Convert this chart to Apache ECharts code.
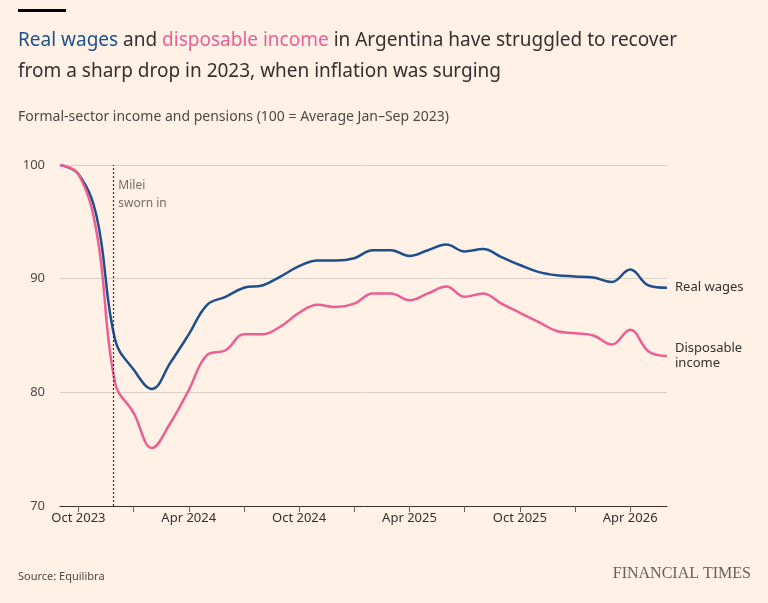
<!DOCTYPE html>
<html>
<head>
<meta charset="utf-8">
<script src="https://cdn.jsdelivr.net/npm/echarts@6/dist/echarts.min.js"></script>
<style>
  html, body { margin: 0; padding: 0; background: #fff1e5; }
  #chart { width: 768px; height: 603px; }
</style>
</head>
<body>
<div id="chart"></div>
<script>
// monthly, Sep 2023 .. Jun 2026
const months = ['Sep 2023','Oct 2023','Nov 2023','Dec 2023','Jan 2024','Feb 2024','Mar 2024','Apr 2024','May 2024','Jun 2024','Jul 2024','Aug 2024',
  'Sep 2024','Oct 2024','Nov 2024','Dec 2024','Jan 2025','Feb 2025','Mar 2025','Apr 2025','May 2025','Jun 2025','Jul 2025','Aug 2025',
  'Sep 2025','Oct 2025','Nov 2025','Dec 2025','Jan 2026','Feb 2026','Mar 2026','Apr 2026','May 2026','Jun 2026'];
const realWages = [100, 99.2, 95.4, 84.6, 82, 80.3, 82.6, 85.1, 87.7, 88.4, 89.2, 89.4,
  90.2, 91.1, 91.6, 91.6, 91.8, 92.5, 92.5, 92.0, 92.5, 93.0, 92.4, 92.6,
  91.9, 91.2, 90.6, 90.3, 90.2, 90.1, 89.7, 90.8, 89.4, 89.2];
const disposable = [100, 99.2, 94.0, 80.8, 78.2, 75.1, 77.3, 80.2, 83.3, 83.7, 85.1, 85.1,
  85.8, 87.0, 87.7, 87.5, 87.8, 88.7, 88.7, 88.1, 88.7, 89.3, 88.4, 88.7,
  87.8, 87.0, 86.2, 85.4, 85.2, 85.0, 84.2, 85.5, 83.6, 83.2];
const tickLabels = ['Oct 2023', 'Apr 2024', 'Oct 2024', 'Apr 2025', 'Oct 2025', 'Apr 2026'];
const mileiIndex = 2.9; // Milei sworn in, Dec 2023

const blue = '#1e4f8d';
const pink = '#eb5f94';

const chart = echarts.init(document.getElementById('chart'));
chart.setOption({
  backgroundColor: '#fff1e5',
  textStyle: { fontFamily: 'Noto Sans' },
  title: [{
    left: 13, top: 20,
    text: '{b|Real wages} and {p|disposable income} in Argentina have struggled to recover\nfrom a sharp drop in 2023, when inflation was surging',
    textStyle: {
      fontSize: 19, fontWeight: 'normal', color: '#33302e', lineHeight: 31,
      rich: {
        b: { color: blue, fontSize: 19, fontWeight: 'normal' },
        p: { color: pink, fontSize: 19, fontWeight: 'normal' }
      }
    }
  }, {
    left: 13, top: 105,
    text: 'Formal-sector income and pensions (100 = Average Jan–Sep 2023)',
    textStyle: { fontSize: 14, fontWeight: 'normal', color: '#4d4845' }
  }, {
    left: 13, top: 566,
    text: 'Source: Equilibra',
    textStyle: { fontSize: 11, fontWeight: 'normal', color: '#4d4845' }
  }, {
    right: 12, top: 561,
    text: 'FINANCIAL TIMES',
    textStyle: { fontSize: 16, fontWeight: 'normal', color: '#66605c', fontFamily: 'Liberation Serif' }
  }],
  graphic: [{ type: 'rect', left: 18, top: 9, shape: { width: 48, height: 3 }, style: { fill: '#000' } }],
  grid: { left: 60, right: 101, top: 165, bottom: 97 },
  xAxis: [{
    type: 'category', data: months, boundaryGap: false,
    axisLine: { lineStyle: { color: '#33302e' } },
    axisTick: { length: 6, interval: (i) => i % 3 === 1, lineStyle: { color: '#66605c' } },
    axisLabel: {
      interval: (i) => i % 6 === 1, color: '#33302e', fontSize: 13, margin: 6,
      formatter: (v) => tickLabels.includes(v) ? v : ''
    }
  }, {
    type: 'value', min: 0, max: months.length - 1, show: false
  }],
  yAxis: {
    type: 'value', min: 70, max: 100, interval: 10,
    axisLine: { show: false }, axisTick: { show: false },
    axisLabel: { color: '#4d4845', fontSize: 13, margin: 15 },
    splitLine: { lineStyle: { color: '#d8cfc7' } }
  },
  series: [{
    name: 'Real wages', type: 'line', data: realWages, smooth: 0.4, symbol: 'none',
    lineStyle: { color: blue, width: 2.5 },
    endLabel: { show: true, formatter: 'Real wages', color: '#33302e', fontSize: 13, distance: 8 }
  }, {
    name: 'Disposable income', type: 'line', data: disposable, smooth: 0.4, symbol: 'none',
    lineStyle: { color: pink, width: 2.5 },
    endLabel: { show: true, formatter: 'Disposable\nincome', color: '#33302e', fontSize: 13, lineHeight: 15, distance: 8 }
  }, {
    type: 'line', xAxisIndex: 1, data: [], silent: true,
    markLine: {
      symbol: 'none', silent: true,
      lineStyle: { color: '#33302e', type: [2, 2], width: 1.2 },
      label: { show: false },
      data: [[{ coord: [mileiIndex, 70] }, { coord: [mileiIndex, 100] }]]
    }
  }, {
    type: 'scatter', xAxisIndex: 1, symbolSize: 0, silent: true,
    data: [[mileiIndex, 99]],
    label: { show: true, position: 'right', distance: 5, formatter: 'Milei\nsworn in', color: '#4d4845', fontSize: 12, lineHeight: 18, align: 'left', verticalAlign: 'top' }
  }]
});
</script>
</body>
</html>
